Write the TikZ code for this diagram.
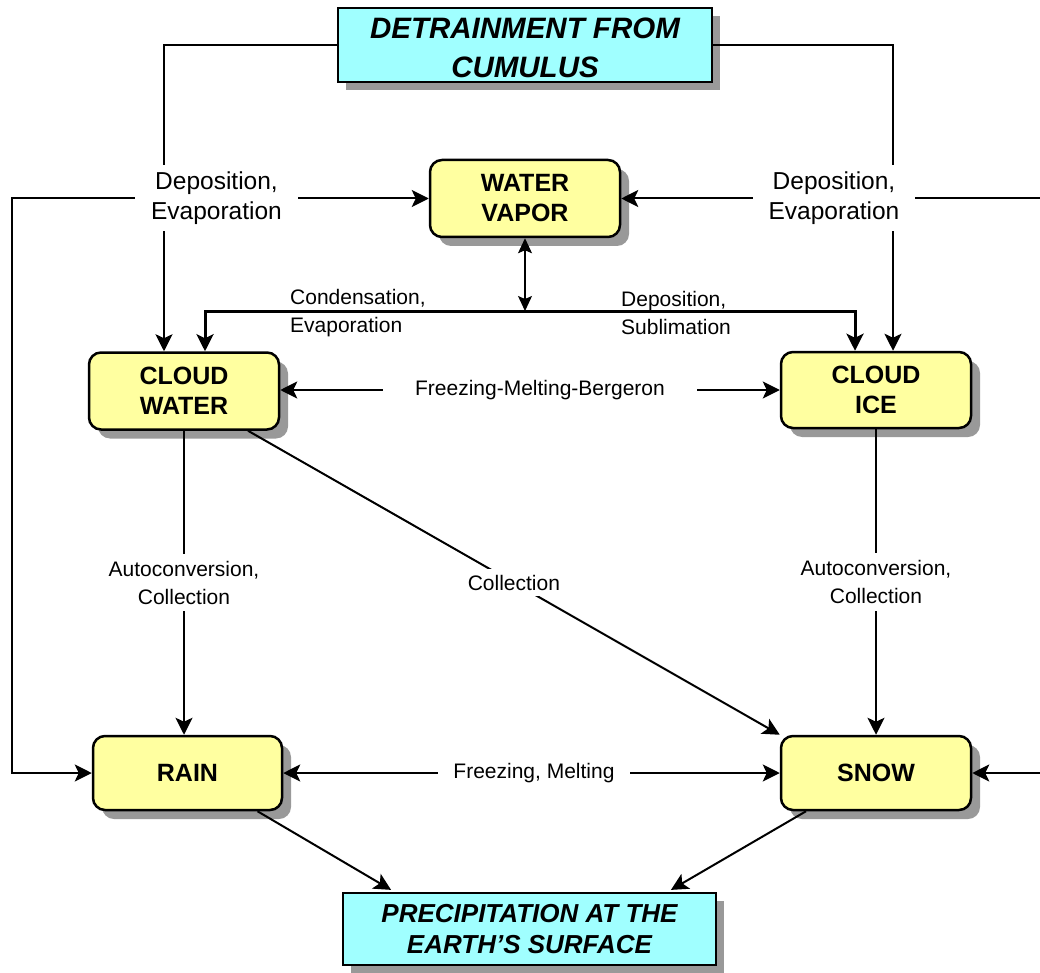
\documentclass[tikz,border=0pt]{standalone}
\usepackage{fontspec}
\setmainfont{Liberation Sans}
\usetikzlibrary{shadows,arrows.meta,calc}
\definecolor{boxyellow}{HTML}{FFFFA0}
\definecolor{boxcyan}{HTML}{A0FFFF}
\definecolor{shadowgray}{HTML}{999999}
\begin{document}
\begin{tikzpicture}[x=1pt,y=-1pt,
  >={Stealth[length=17pt,width=17pt,inset=4pt]},
  proc/.style={draw, line width=2.5pt, rounded corners=12pt, fill=boxyellow,
    minimum width=190pt, minimum height=77pt, inner sep=0pt, align=center,
    font=\fontsize{25}{30}\selectfont\bfseries,
    drop shadow={shadow xshift=9pt, shadow yshift=-9pt, fill=shadowgray, opacity=1}},
  term/.style={draw, line width=2.2pt, fill=boxcyan, inner sep=0pt, align=center,
    minimum width=374pt, minimum height=74pt,
    drop shadow={shadow xshift=8pt, shadow yshift=-8pt, fill=shadowgray, opacity=1}},
  conn/.style={line width=2pt},
  branch/.style={line width=3pt},
  thinconn/.style={line width=1.2pt, >={Stealth[length=15pt,width=14pt,inset=3pt]}},
  lab/.style={fill=white, inner xsep=16pt, inner ysep=7pt, align=center,
    font=\fontsize{24.5}{30}\selectfont},
  slab/.style={fill=white, inner xsep=14pt, inner ysep=7pt, align=center,
    font=\fontsize{21}{28}\selectfont},
  plab/.style={inner sep=0pt, align=left, anchor=west,
    font=\fontsize{21}{28}\selectfont}
]
\useasboundingbox (0,0) rectangle (1040,973);
\clip (0,0) rectangle (1040,973);

% boxes
\node[term, font=\fontsize{29.5}{39}\selectfont\bfseries\itshape] (det) at (525,45) {\rule{0pt}{27pt}DETRAINMENT FROM\\CUMULUS};
\node[term, minimum width=373pt, minimum height=72pt, font=\fontsize{26}{31}\selectfont\bfseries\itshape] (prec) at (529.5,929) {PRECIPITATION AT THE\\EARTH’S SURFACE};
\node[proc] (vapor) at (525,198.5) {WATER\\VAPOR};
\node[proc] (cw) at (184,391) {CLOUD\\WATER};
\node[proc, minimum height=76pt] (ci) at (876,390) {CLOUD\\ICE};
\node[proc, minimum width=189pt, minimum height=74pt] (rain) at (187.5,773) {RAIN};
\node[proc, minimum height=74pt] (snow) at (876,773) {SNOW};

% helper coordinates
\coordinate (lo) at (12,500);
\coordinate (ro) at (1046,500);
\coordinate (j) at (525,311);

% outer loops
\draw[conn,<->] (rain.west) -| (lo) |- (vapor.west);
\draw[conn,<->] (snow.east) -| (ro) |- (vapor.east);

% detrainment
\draw[conn,->] (det.west) -| ([xshift=-20pt]cw.north);
\draw[conn,->] (det.east) -| ([xshift=17pt]ci.north);

% vapor branch
\draw[thinconn,<->] (vapor.south) -- (j);
\draw[branch,->] (j) -| ([xshift=21pt]cw.north);
\draw[branch,->] (j) -| ([xshift=-21pt]ci.north);

% cloud water <-> cloud ice
\draw[conn,<->] (cw.east |- 0,390) -- (ci.west)
  node[slab, pos=0.52, inner xsep=32pt] (fmb) {Freezing-Melting-Bergeron};

% to rain and snow
\draw[conn,->] (cw.south) -- (rain.north -| cw.south)
  node[slab, midway] (acw) {Autoconversion,\\Collection};
\draw[conn,->] ([xshift=64pt]cw.south) -- (snow.north west)
  node[slab, midway, inner xsep=8pt, inner ysep=6pt] (coll) {Collection};
\draw[conn,->] (ci.south) -- (snow.north)
  node[slab, midway] (aci) {Autoconversion,\\Collection};
\draw[conn,<->] (rain.east) -- (snow.west)
  node[slab, pos=0.505, inner xsep=15pt] (fm) {Freezing, Melting};

% to precipitation
\draw[conn,->,shorten >=4pt] ([xshift=70pt]rain.south) -- ([xshift=-135pt]prec.north);
\draw[conn,->,shorten >=4pt] ([xshift=-70pt]snow.south) -- ([xshift=138pt]prec.north);

% labels
\node[lab] (depl) at (216.5,198) {Deposition,\\Evaporation};
\node[lab] (depr) at (834,198) {Deposition,\\Evaporation};
\node[plab] (cond) at (290,313) {Condensation,\\Evaporation};
\node[plab] (dsub) at (621,313) {Deposition,\\Sublimation};
\end{tikzpicture}
\end{document}
